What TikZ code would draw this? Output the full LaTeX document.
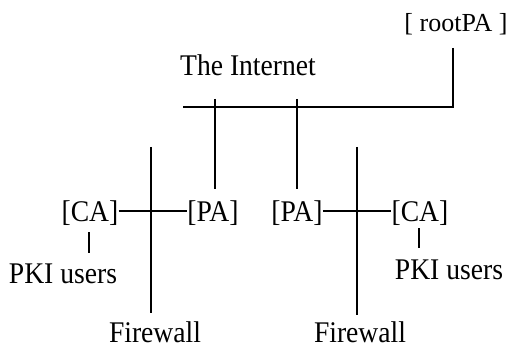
\documentclass[tikz,border=0pt]{standalone}
\usepackage{fontspec}
\setmainfont[FakeStretch=0.92]{Liberation Serif}
\newfontfamily\rootfont{Liberation Serif}
\begin{document}
\begin{tikzpicture}[x=1pt,y=-1pt,
  lbl/.style={inner sep=0pt,anchor=base,font=\fontsize{30}{32}\selectfont},
  wire/.style={line width=2pt}]
\useasboundingbox (0,0) rectangle (513,347);
% labels
\node[lbl,font=\rootfont\fontsize{26}{28}\selectfont] (root) at (456,32) {[ rootPA ]};
\node[lbl] (inet) at (248,76) {The Internet};
\node[lbl] (caL) at (90,222) {[CA]};
\node[lbl] (paL) at (213,222) {[PA]};
\node[lbl] (paR) at (297,222) {[PA]};
\node[lbl] (caR) at (420,222) {[CA]};
\node[lbl] (pkiL) at (63,283) {PKI users};
\node[lbl] (pkiR) at (449,279) {PKI users};
\node[lbl] (fwL) at (155,342) {Firewall};
\node[lbl] (fwR) at (360,342) {Firewall};
% coordinates
\coordinate (rootTop) at (453,48);
\coordinate (busR) at (453,107);
\coordinate (busL) at (183,107);
\coordinate (pa1top) at (215,99);
\coordinate (pa1bot) at (215,189);
\coordinate (pa2top) at (297,99);
\coordinate (pa2bot) at (297,189);
\coordinate (fw1top) at (151,147);
\coordinate (fw1bot) at (151,313);
\coordinate (fw2top) at (357,147);
\coordinate (fw2bot) at (357,315);
\coordinate (u1top) at (89,232);
\coordinate (u1bot) at (89,253);
\coordinate (u2top) at (419,228);
\coordinate (u2bot) at (419,248);
% connectors
\draw[wire] (rootTop) -- (busR) -- (busL);
\draw[wire] (pa1top) -- (pa1bot);
\draw[wire] (pa2top) -- (pa2bot);
\draw[wire] (fw1top) -- (fw1bot);
\draw[wire] (fw2top) -- (fw2bot);
\draw[wire] (caL.east |- 0,211) -- (paL.west |- 0,211);
\draw[wire] (paR.east |- 0,211) -- (caR.west |- 0,211);
\draw[wire] (u1top) -- (u1bot);
\draw[wire] (u2top) -- (u2bot);
\end{tikzpicture}
\end{document}
